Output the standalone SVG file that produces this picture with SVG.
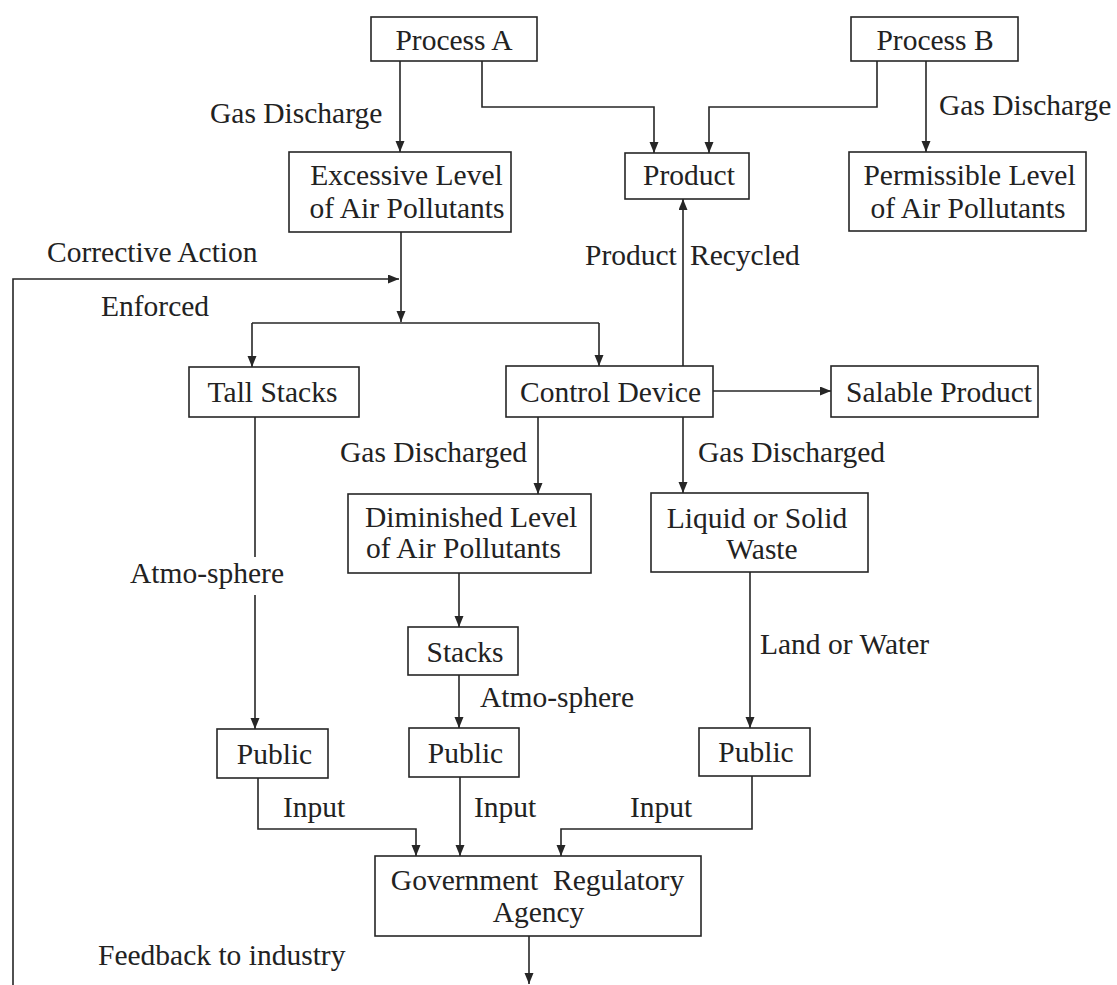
<svg xmlns="http://www.w3.org/2000/svg" width="1117" height="985" viewBox="0 0 1117 985">
<style>
  .box { fill: #ffffff; stroke: #262626; stroke-width: 1.6; }
  .t { font-family: "Liberation Serif", "Times New Roman", serif; font-size: 29.5px; fill: #222222; }
  .c { text-anchor: middle; }
  .ln { fill: none; stroke: #262626; stroke-width: 1.6; }
  .ar { fill: none; stroke: #262626; stroke-width: 1.6; marker-end: url(#ah); }
</style>
<defs>
  <marker id="ah" markerUnits="userSpaceOnUse" markerWidth="12" markerHeight="10" refX="11" refY="4.5" orient="auto">
    <path d="M0,0 L11,4.5 L0,9 z" fill="#262626"/>
  </marker>
</defs>
<rect width="1117" height="985" fill="#ffffff"/>

<g id="connectors">
  <path class="ar" d="M400,61 V152"/>
  <path class="ar" d="M482,61 V107 H654 V153"/>
  <path class="ar" d="M877,61 V107 H709 V153"/>
  <path class="ar" d="M926,61 V152"/>
  <path class="ar" d="M401,232 V322"/>
  <path class="ln" d="M252,323 H599"/>
  <path class="ar" d="M252,323 V367"/>
  <path class="ar" d="M599,323 V366"/>
  <path class="ar" d="M13,985 V279 H399"/>
  <path class="ar" d="M683,366 V199"/>
  <path class="ar" d="M713,391 H831"/>
  <path class="ar" d="M538,417 V494"/>
  <path class="ar" d="M683,417 V493"/>
  <path class="ln" d="M255,417 V557"/>
  <path class="ar" d="M255,595 V729"/>
  <path class="ar" d="M459,573 V627"/>
  <path class="ar" d="M459,675 V728"/>
  <path class="ar" d="M750,572 V728"/>
  <path class="ar" d="M258,778 V829 H416 V856"/>
  <path class="ar" d="M460,777 V856"/>
  <path class="ar" d="M752,776 V829 H561 V856"/>
  <path class="ar" d="M529,936 V984"/>
</g>

<g id="labels">
  <text class="t" x="210" y="123">Gas Discharge</text>
  <text class="t" x="939" y="115">Gas Discharge</text>
  <text class="t" x="47" y="262">Corrective Action</text>
  <text class="t" x="585" y="265">Product</text>
  <text class="t" x="690" y="265">Recycled</text>
  <text class="t" x="101" y="316">Enforced</text>
  <text class="t" x="340" y="462">Gas Discharged</text>
  <text class="t" x="698" y="462">Gas Discharged</text>
  <text class="t" x="130" y="583">Atmo-sphere</text>
  <text class="t" x="760" y="654">Land or Water</text>
  <text class="t" x="480" y="707">Atmo-sphere</text>
  <text class="t" x="283" y="817">Input</text>
  <text class="t" x="474" y="817">Input</text>
  <text class="t" x="630" y="817">Input</text>
  <text class="t" x="98" y="965">Feedback to industry</text>
</g>

<g id="process-a">
  <rect class="box" x="371" y="17" width="166" height="44"/>
  <text class="t c" x="454" y="50">Process A</text>
</g>
<g id="process-b">
  <rect class="box" x="851" y="17" width="167" height="44"/>
  <text class="t c" x="935" y="50">Process B</text>
</g>
<g id="excessive-level">
  <rect class="box" x="289" y="152" width="222" height="80"/>
  <text class="t c" x="406.5" y="185">Excessive Level</text>
  <text class="t c" x="407" y="218">of Air Pollutants</text>
</g>
<g id="product">
  <rect class="box" x="625" y="153" width="124" height="46"/>
  <text class="t c" x="689" y="185">Product</text>
</g>
<g id="permissible-level">
  <rect class="box" x="849" y="152" width="237" height="79"/>
  <text class="t c" x="969.5" y="185">Permissible Level</text>
  <text class="t c" x="968" y="218">of Air Pollutants</text>
</g>
<g id="tall-stacks">
  <rect class="box" x="189" y="367" width="170" height="50"/>
  <text class="t c" x="272.5" y="402">Tall Stacks</text>
</g>
<g id="control-device">
  <rect class="box" x="506" y="366" width="207" height="51"/>
  <text class="t c" x="610.5" y="402">Control Device</text>
</g>
<g id="salable-product">
  <rect class="box" x="831" y="366" width="207" height="51"/>
  <text class="t c" x="939" y="402">Salable Product</text>
</g>
<g id="diminished-level">
  <rect class="box" x="348" y="494" width="243" height="79"/>
  <text class="t" x="365" y="527">Diminished Level</text>
  <text class="t" x="366" y="558">of Air Pollutants</text>
</g>
<g id="liquid-solid-waste">
  <rect class="box" x="651" y="493" width="217" height="79"/>
  <text class="t c" x="757" y="528">Liquid or Solid</text>
  <text class="t c" x="762" y="559">Waste</text>
</g>
<g id="stacks">
  <rect class="box" x="408" y="627" width="110" height="48"/>
  <text class="t c" x="465" y="662">Stacks</text>
</g>
<g id="public-1">
  <rect class="box" x="217" y="729" width="111" height="49"/>
  <text class="t c" x="274.5" y="764">Public</text>
</g>
<g id="public-2">
  <rect class="box" x="409" y="728" width="110" height="49"/>
  <text class="t c" x="465.5" y="763">Public</text>
</g>
<g id="public-3">
  <rect class="box" x="699" y="728" width="111" height="48"/>
  <text class="t c" x="756" y="762">Public</text>
</g>
<g id="government-agency">
  <rect class="box" x="375" y="856" width="326" height="80"/>
  <text class="t c" x="537.5" y="890" xml:space="preserve">Government  Regulatory</text>
  <text class="t c" x="538.5" y="922">Agency</text>
</g>
</svg>
